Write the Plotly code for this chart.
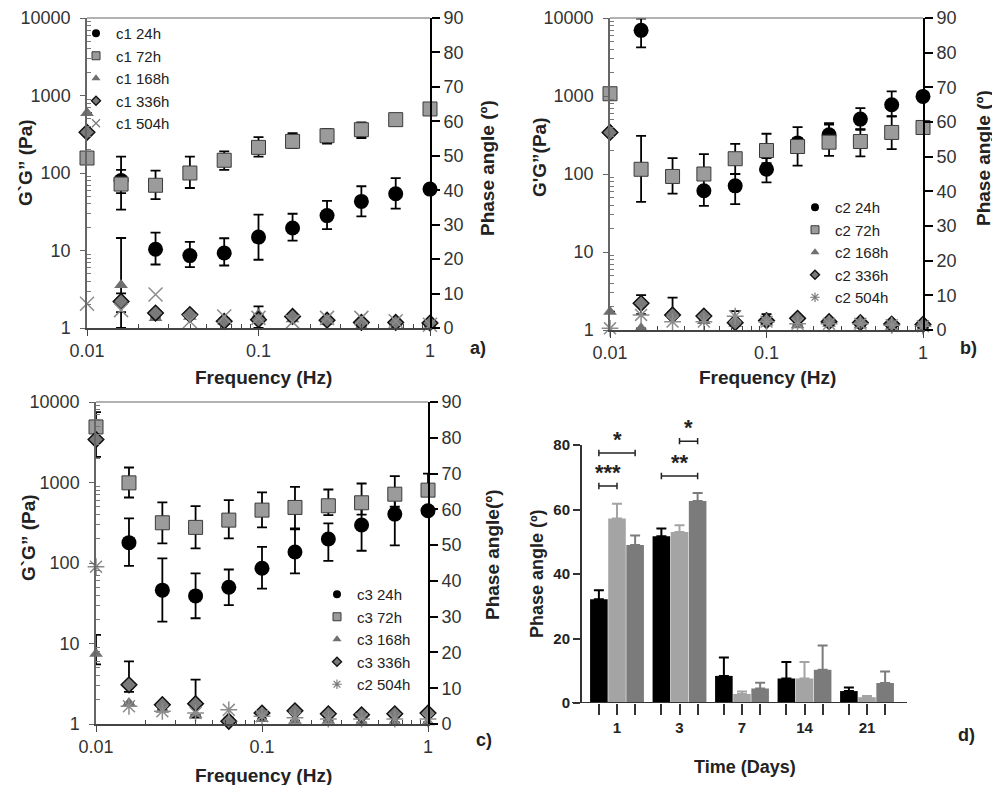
import math
import plotly.graph_objects as go

# ---------------- data ----------------
freq = [0.01, 0.0158, 0.0251, 0.0398, 0.0631, 0.1, 0.158, 0.251, 0.398, 0.631, 1.0]
N = None

# panel a (c1)
c1_24h = [N, 80, 10.4, 8.6, 9.3, 14.9, 19.5, 28.2, 43, 54, 62]
c1_24h_hi = [N, 110, 17, 12.9, 14.4, 29, 29.8, 43.6, 67.5, 86, N]
c1_24h_lo = [N, 55, 6.6, 6.1, 6.4, 7.6, 13.4, 18.9, 27.6, 34.6, N]
c1_72h = [156, 72, 69.5, 100, 146, 214, 256, 303, 362, 488, 670]
c1_72h_hi = [N, 163, 107, 163, 190, 291, 327, 369, 450, N, N]
c1_72h_lo = [N, 33.6, 46, 64, 110, 163, 210, 239, 283, N, N]
c1_168h = [594, 3.6, 1.35, 1.4, 1.2, 1.5, 1.3, 1.2, 1.05, 1.15, 1.1]
c1_168h_hi = [N, 14.5, N, N, N, 1.9, N, N, N, N, N]
c1_168h_lo = [N, 1.0, N, N, N, N, N, N, N, N, N]
c1_336h = [335, 2.2, 1.56, 1.49, 1.22, 1.28, 1.41, 1.26, 1.18, 1.18, 1.16]
c1_336h_hi = [N, 2.8, N, N, 1.35, N, N, N, N, N, N]
c1_336h_lo = [N, 1.6, N, N, N, 1.0, N, N, N, N, N]
c1_504h = [2.06, 1.7, 2.7, 1.22, 1.41, 1.35, 1.2, 1.35, 1.35, 1.22, 1.1]

# panel b (c2)
c2_24h = [N, 6950, N, 61, 70.5, 115, 250, 318, 506, 772, 988]
c2_24h_hi = [N, 9800, N, 104, 100, 160, 290, 449, 700, 1145, N]
c2_24h_lo = [N, 4200, N, 39, 41, 78, 200, 280, 369, 547, N]
c2_72h = [1069, 115, 93, 100, 157, 200, 225, 256, 261, 341, 395]
c2_72h_hi = [N, 309, 160, 180, 244, 328, 399, 430, 376, 550, N]
c2_72h_lo = [N, 44, 56, N, 100, 138, 128, 171, 168, 208, N]
c2_168h = [1.72, 1.05, 1.7, 1.3, 1.2, 1.25, 1.15, 1.2, 1.15, 1.1, 1.1]
c2_168h_hi = [N, N, 2.6, N, N, N, N, N, N, N, N]
c2_168h_lo = [N] * 11
c2_336h = [341, 2.2, 1.56, 1.51, 1.24, 1.32, 1.41, 1.28, 1.24, 1.19, 1.18]
c2_336h_hi = [N, 2.8, N, N, 1.75, 1.6, N, N, N, N, N]
c2_336h_lo = [N, 1.6, N, N, N, N, N, N, N, N, N]
c2_504h = [1.05, 1.56, 1.28, 1.28, 1.5, 1.28, 1.2, 1.2, 1.2, 1.15, 1.12]

# panel c (c3)
c3_24h = [N, 179, 46, 39, 50, 86, 137, 199, 296, 405, 445]
c3_24h_hi = [N, 358, 114, 74.5, 83, 159, 261, 311, 500, 750, N]
c3_24h_lo = [N, 92, 18.7, 20.6, 30, 48, 74.5, 106, 142, 166, N]
c3_72h = [4900, 990, 316, 277, 341, 454, 490, 514, 560, 716, 804]
c3_72h_hi = [7500, 1535, 565, 509, 604, 752, 884, 819, 972, 1199, 1292]
c3_72h_lo = [N, 651, 175, 152, 202, 277, 269, 393, 400, 500, N]
c3_168h = [7.45, 1.82, 1.5, 1.3, 1.2, 1.15, 1.1, 1.1, 1.05, 1.05, 1.05]
c3_168h_hi = [12.8, N, N, N, N, N, N, N, N, N, N]
c3_168h_lo = [5.5, N, N, N, N, N, N, N, N, N, N]
c3_336h = [3414, 3.07, 1.74, 1.79, 1.08, 1.37, 1.46, 1.34, 1.3, 1.34, 1.37]
c3_336h_hi = [N, 6.0, N, 3.55, N, N, N, N, N, N, N]
c3_336h_lo = [2080, 2.5, N, 1.2, N, N, N, N, N, N, N]
c3_504h = [90, 1.66, 1.44, 1.37, 1.5, 1.25, 1.2, 1.15, 1.15, 1.15, 1.15]

# panel d
days = ["1", "3", "7", "14", "21"]
phase_c1 = [32.2, 51.7, 8.4, 7.6, 3.7]
phase_c1_top = [35.0, 54.1, 14.1, 12.7, 4.8]
phase_c2 = [57.2, 53.0, 2.8, 7.6, 1.8]
phase_c2_top = [61.8, 55.1, 3.6, 12.7, 2.2]
phase_c3 = [49.0, 62.6, 4.5, 10.3, 6.2]
phase_c3_top = [51.9, 65.1, 6.3, 17.8, 9.8]
# significance: (group index, bar from, bar to, level, label)
sig_brackets = [(0, 0, 1, 67.3, "***"), (0, 0, 2, 77.5, "*"),
                (1, 0, 2, 70.4, "**"), (1, 1, 2, 81.2, "*")]

# ---------------- helpers ----------------
W, H = 1000, 785
OFF = 8  # page body margin of the html page
FONT = "Arial, 'Liberation Sans', sans-serif"


def PX(x):
    return (x - OFF) / W


def PY(y):
    return 1 - (y - OFF) / H


def errs(v, hi, lo):
    up, dn = [], []
    for a, h, l in zip(v, hi, lo):
        up.append(h - a if (a is not None and h is not None) else float('nan'))
        dn.append(a - l if (a is not None and l is not None) else float('nan'))
    return up, dn


fig = go.Figure()

STY = {
    '24h': dict(symbol='circle', size=15, color='#000000', line=dict(width=0)),
    '72h': dict(symbol='square', size=14, color='#9b9b9b', line=dict(color='#3a3a3a', width=1)),
    '168h': dict(symbol='triangle-up', size=12, color='#6f6f6f', line=dict(width=0)),
    '336h': dict(symbol='diamond', size=12, color='#7a7a7a', line=dict(color='#111111', width=1.5)),
}
LEG = {
    '24h': dict(symbol='circle', size=8, color='#000000', line=dict(width=0)),
    '72h': dict(symbol='square', size=8, color='#9b9b9b', line=dict(color='#3a3a3a', width=1)),
    '168h': dict(symbol='triangle-up', size=8, color='#6f6f6f', line=dict(width=0)),
    '336h': dict(symbol='diamond', size=7, color='#7a7a7a', line=dict(color='#111111', width=1.3)),
}


def add_panel(xa, ya, legend, series, xsym):
    for name, key, v, hi, lo in series:
        st = dict(STY.get(key, {}))
        lg = dict(LEG.get(key, {}))
        if key == '504h':
            st = dict(symbol=xsym, size=14, color='#8c8c8c', line=dict(width=1.5, color='#8c8c8c'))
            lg = dict(symbol=xsym, size=8, color='#7a7a7a', line=dict(width=1.2, color='#7a7a7a'))
        kw = {}
        if hi is not None:
            up, dn = errs(v, hi, lo)
            kw['error_y'] = dict(type='data', symmetric=False, array=up, arrayminus=dn,
                                 color='#000000', thickness=1.8, width=5)
        fig.add_trace(go.Scatter(x=freq, y=v, mode='markers', marker=st, xaxis=xa, yaxis=ya,
                                 showlegend=False, hoverinfo='skip', cliponaxis=False, **kw))
        fig.add_trace(go.Scatter(x=[None], y=[None], mode='markers', marker=lg, name=name,
                                 xaxis=xa, yaxis=ya, legend=legend, showlegend=True))


add_panel('x', 'y', 'legend', [
    ('c1 24h', '24h', c1_24h, c1_24h_hi, c1_24h_lo),
    ('c1 72h', '72h', c1_72h, c1_72h_hi, c1_72h_lo),
    ('c1 168h', '168h', c1_168h, c1_168h_hi, c1_168h_lo),
    ('c1 336h', '336h', c1_336h, c1_336h_hi, c1_336h_lo),
    ('c1 504h', '504h', c1_504h, None, None)], 'x-thin-open')
add_panel('x2', 'y3', 'legend2', [
    ('c2 24h', '24h', c2_24h, c2_24h_hi, c2_24h_lo),
    ('c2 72h', '72h', c2_72h, c2_72h_hi, c2_72h_lo),
    ('c2 168h', '168h', c2_168h, c2_168h_hi, c2_168h_lo),
    ('c2 336h', '336h', c2_336h, c2_336h_hi, c2_336h_lo),
    ('c2 504h', '504h', c2_504h, None, None)], 'asterisk-open')
add_panel('x3', 'y5', 'legend3', [
    ('c3 24h', '24h', c3_24h, c3_24h_hi, c3_24h_lo),
    ('c3 72h', '72h', c3_72h, c3_72h_hi, c3_72h_lo),
    ('c3 168h', '168h', c3_168h, c3_168h_hi, c3_168h_lo),
    ('c3 336h', '336h', c3_336h, c3_336h_hi, c3_336h_lo),
    ('c2 504h', '504h', c3_504h, None, None)], 'asterisk-open')

# dummy traces to activate the right-hand phase angle axes
for xa, ya in (('x', 'y2'), ('x2', 'y4'), ('x3', 'y6')):
    fig.add_trace(go.Scatter(x=[None], y=[None], xaxis=xa, yaxis=ya, showlegend=False))

# panel d bars
gidx = list(range(len(days)))
for vals, tops, col in ((phase_c1, phase_c1_top, '#000000'),
                        (phase_c2, phase_c2_top, '#a4a4a4'),
                        (phase_c3, phase_c3_top, '#7b7b7b')):
    fig.add_trace(go.Bar(x=gidx, y=vals, marker=dict(color=col, line=dict(width=0)),
                         xaxis='x4', yaxis='y7', showlegend=False,
                         error_y=dict(type='data', symmetric=False,
                                      array=[t - v for t, v in zip(tops, vals)],
                                      arrayminus=[0] * len(vals), color=col,
                                      thickness=2, width=5)))

# ---------------- axes ----------------
minor_x = [m * 10 ** e for e in (-2, -1) for m in range(2, 10)]
minor_y = [m * 10 ** e for e in (0, 1, 2, 3) for m in range(2, 10)]


def fx(domain, anchor):
    return dict(type='log', range=[-2, 0], domain=domain, anchor=anchor, showline=True,
                linecolor='#444', linewidth=1.5, ticks='outside', ticklen=6, tickcolor='#444',
                tickvals=[0.01, 0.1, 1], ticktext=['0.01', '0.1', '1'],
                tickfont=dict(size=18, color='#333', family=FONT), showgrid=False, zeroline=False,
                minor=dict(ticks='inside', ticklen=4, tickcolor='#444', tickvals=minor_x, showgrid=False))


def fy(domain, anchor):
    return dict(type='log', range=[0, 4], domain=domain, anchor=anchor, showline=True,
                linecolor='#666', linewidth=1.5, ticks='outside', ticklen=5, tickcolor='#666',
                tickvals=[1, 10, 100, 1000, 10000], ticktext=['1', '10', '100', '1000', '10000'],
                tickfont=dict(size=18, color='#333', family=FONT), showgrid=False, zeroline=False,
                ticklabelstandoff=6,
                minor=dict(ticks='inside', ticklen=4, tickcolor='#777', tickvals=minor_y, showgrid=False))


def fr(domain, anchor, over):
    return dict(range=[0, 90], domain=domain, anchor=anchor, overlaying=over, side='right',
                showline=True, linecolor='#000', linewidth=2, ticks='outside', ticklen=8,
                tickcolor='#000', tickwidth=1.5, dtick=10, tick0=0,
                tickfont=dict(size=18, color='#333', family=FONT), showgrid=False, zeroline=False)


A_X = [PX(87), PX(430)]; A_Y = [PY(328), PY(18)]
B_X = [PX(610), PX(923)]; B_Y = [PY(330), PY(18)]
C_X = [PX(96), PX(428)]; C_Y = [PY(724), PY(402)]
D_X = [PX(581), PX(907)]; D_Y = [PY(703), PY(703 - 90 * 3.225)]

bar_off = [-0.29, 0.0, 0.29]
d_tickvals = [g + o for g in gidx for o in bar_off]
d_ticktext = [days[g] if o == 0 else '' for g in gidx for o in bar_off]

fig.update_layout(
    width=W, height=H, margin=dict(l=0, r=0, t=0, b=0, autoexpand=False),
    paper_bgcolor='white', plot_bgcolor='white',
    font=dict(family=FONT, color='#222'),
    barmode='group', bargap=0.13, bargroupgap=0.03,
    xaxis=fx(A_X, 'y'), yaxis=fy(A_Y, 'x'), yaxis2=fr(A_Y, 'x', 'y'),
    xaxis2=fx(B_X, 'y3'), yaxis3=fy(B_Y, 'x2'), yaxis4=fr(B_Y, 'x2', 'y3'),
    xaxis3=fx(C_X, 'y5'), yaxis5=fy(C_Y, 'x3'), yaxis6=fr(C_Y, 'x3', 'y5'),
    xaxis4=dict(domain=D_X, anchor='y7', range=[(581 - 617) / 62.5, (907 - 617) / 62.5],
                showline=False, zeroline=False, showgrid=False, ticks='outside', ticklen=11,
                tickwidth=1.5, tickcolor='#333', tickvals=d_tickvals, ticktext=d_ticktext,
                tickfont=dict(size=15, color='#222', family=FONT, weight='bold')),
    yaxis7=dict(domain=D_Y, anchor='x4', range=[0, 90], showline=False, zeroline=False,
                showgrid=False, ticks='outside', ticklen=7, tickwidth=1.5, tickcolor='#333',
                tickvals=[0, 20, 40, 60, 80],
                tickfont=dict(size=15, color='#222', family=FONT, weight='bold')),
)

legend_common = dict(xanchor='left', yanchor='top', bgcolor='rgba(0,0,0,0)',
                     font=dict(size=15, family=FONT, color='#222'), tracegroupgap=0,
                     itemsizing='trace')
fig.update_layout(
    legend=dict(x=PX(76), y=PY(17), **legend_common),
    legend2=dict(x=PX(795), y=PY(191), **legend_common),
    legend3=dict(x=PX(317), y=PY(578), **legend_common),
)

shapes = []
for (x0, x1), ytop in ((A_X, 18), (B_X, 18), (C_X, 402)):
    shapes.append(dict(type='line', xref='paper', yref='paper', x0=x0, x1=x1,
                       y0=PY(ytop), y1=PY(ytop), line=dict(color='#999', width=1.5)))
# panel d axis lines
shapes.append(dict(type='line', xref='paper', yref='y7', x0=PX(572), x1=PX(907), y0=0, y1=0,
                   line=dict(color='#333', width=2)))
shapes.append(dict(type='line', xref='paper', yref='y7', x0=PX(581), x1=PX(581), y0=0, y1=80,
                   line=dict(color='#333', width=2)))
annos = []
for g, b0, b1, lev, lab in sig_brackets:
    xa = g + bar_off[b0]
    xb = g + bar_off[b1]
    shapes.append(dict(type='line', xref='x4', yref='y7', x0=xa, x1=xb, y0=lev, y1=lev,
                       line=dict(color='#222', width=1.5)))
    for xe in (xa, xb):
        shapes.append(dict(type='line', xref='x4', yref='y7', x0=xe, x1=xe, y0=lev - 1, y1=lev + 1,
                           line=dict(color='#222', width=1.5)))
    annos.append(dict(x=(xa + xb) / 2, y=lev - 0.4, xref='x4', yref='y7', text=lab,
                      showarrow=False, yanchor='bottom',
                      font=dict(size=22, family=FONT, color='#222', weight='bold')))


def txt(x, y, s, size=18, angle=0, bold=True):
    annos.append(dict(x=PX(x), y=PY(y), xref='paper', yref='paper', text=s, showarrow=False,
                      textangle=angle, xanchor='center', yanchor='middle',
                      font=dict(size=size, family=FONT, color='#222',
                                weight='bold' if bold else 'normal')))


# axis titles
txt(263, 377, 'Frequency (Hz)', 19)
txt(767, 377, 'Frequency (Hz)', 19)
txt(263, 775, 'Frequency (Hz)', 19)
txt(26, 163, 'G`G” (Pa)', 19, -90)
txt(540, 158, "G'G”(Pa)", 19, -90)
txt(28, 538, 'G`G” (Pa)', 19, -90)
txt(488, 168, 'Phase angle (º)', 19, -90)
txt(984, 158, 'Phase angle (º)', 19, -90)
txt(492, 555, 'Phase angle(º)', 19, -90)
txt(537, 574, 'Phase angle (º)', 18, -90)
txt(745, 767, 'Time (Days)', 18)
# panel letters
txt(478, 348, 'a)', 18)
txt(968, 348, 'b)', 18)
txt(484, 740, 'c)', 18)
txt(966, 735, 'd)', 18)

fig.update_layout(shapes=shapes, annotations=annos)
fig.write_html("out.html")
